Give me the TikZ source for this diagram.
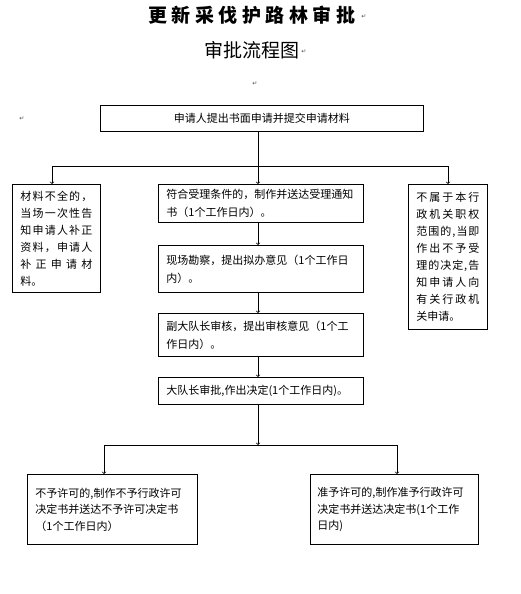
\documentclass[tikz,border=0pt]{standalone}
\usepackage{fontspec}
\newfontfamily\cjk{Noto Sans CJK SC}
\newfontfamily\symfont{DejaVu Sans}
\usepackage{tikz}

\newcommand{\tsp}{\hspace{4.5pt}}
\newcommand{\spreadline}[2]{\makebox[#1][s]{\spaceskip=0pt plus 1fil #2}}

\tikzset{
  box/.style={draw, line width=0.9pt, anchor=north west, inner xsep=8pt, inner ysep=0pt,
    align=left, font=\cjk\fontsize{11}{17}\selectfont},
  midbox/.style={box, text width=189pt, font=\cjk\fontsize{11}{18}\selectfont},
  endbox/.style={box, minimum height=70pt, font=\cjk\fontsize{11}{16.5}\selectfont},
  flow/.style={line width=0.7pt},
  pmark/.style={font=\symfont\fontsize{6}{6}\selectfont, text=black!70, inner sep=0pt},
}

\begin{document}
\begin{tikzpicture}[x=1pt, y=-1pt, >=to]
  \path[use as bounding box, fill=white] (0,0) rectangle (521,594);

  % titles
  \node[font=\cjk\bfseries\fontsize{19}{19}\selectfont] (title) at (252,15)
    {更\tsp 新\tsp 采\tsp 伐\tsp 护\tsp 路\tsp 林\tsp 审\tsp 批};
  \node[font=\cjk\fontsize{19}{19}\selectfont] (subtitle) at (252,50) {审批流程图};
  \node[pmark] (pm1) at (364,17) {↵};
  \node[pmark] (pm2) at (304,52) {↵};
  \node[pmark] (pm3) at (255,84) {↵};
  \node[pmark] (pm4) at (22,119) {↵};

  % boxes
  \node[box, text width=72pt, minimum height=108pt] (incomplete) at (12,184)
    {\spreadline{72pt}{材 料 不 全 的 ，}\\\spreadline{72pt}{当 场 一 次 性 告}\\
     \spreadline{72pt}{知 申 请 人 补 正}\\\spreadline{72pt}{资 料 ， 申 请 人}\\
     \spreadline{72pt}{补 正 申 请 材}\\料。};
  \node[box, text width=307pt, minimum height=26pt, align=center] (apply) at (100,105)
    {申请人提出书面申请并提交申请材料};
  \node[midbox, minimum height=38pt] (accept) at (158,184)
    {符合受理条件的，制作并送达受理通知\\书（1个工作日内）。};
  \node[midbox, minimum height=47pt] (survey) at (158,245)
    {现场勘察，提出拟办意见（1个工作日\\内）。};
  \node[midbox, minimum height=43pt] (review) at (158,313)
    {副大队长审核，提出审核意见（1个工\\作日内）。};
  \node[midbox, minimum height=27pt] (decide) at (158,377)
    {大队长审批,作出决定(1个工作日内)。};
  \node[box, text width=63pt, minimum height=145pt] (outscope) at (408,184)
    {\spreadline{63pt}{不 属 于 本 行}\\\spreadline{63pt}{政 机 关 职 权}\\
     \spreadline{63pt}{范 围 的 , 当 即}\\\spreadline{63pt}{作 出 不 予 受}\\
     \spreadline{63pt}{理 的 决 定 , 告}\\\spreadline{63pt}{知 申 请 人 向}\\
     \spreadline{63pt}{有 关 行 政 机}\\关申请。};
  \node[endbox, text width=154pt] (deny) at (27,474)
    {不予许可的,制作不予行政许可\\决定书并送达不予许可决定书\\（1个工作日内）};
  \node[endbox, text width=154pt, inner xsep=7pt] (grant) at (310,474)
    {准予许可的,制作准予行政许可\\决定书并送达决定书(1个工作\\日内)};

  % connectors
  \coordinate (fork) at (258,166);
  \coordinate (forkl) at (52,166);
  \coordinate (forkr) at (448,166);
  \draw[flow] (apply.south -| fork) -- (fork);
  \draw[flow] (forkl) -- (forkr);
  \draw[flow,->] (forkl) -- (forkl |- incomplete.north);
  \draw[flow,->] (fork) -- (fork |- accept.north);
  \draw[flow,->] (forkr) -- (forkr |- outscope.north);
  \draw[flow,->] (accept.south -| fork) -- (survey.north -| fork);
  \draw[flow,->] (survey.south -| fork) -- (review.north -| fork);
  \draw[flow,->] (review.south -| fork) -- (decide.north -| fork);

  \coordinate (join) at (258,445);
  \coordinate (joinl) at (104,445);
  \coordinate (joinr) at (397,445);
  \draw[flow,->] (decide.south -| join) -- (join);
  \draw[flow] (joinl) -- (joinr);
  \draw[flow,->] (joinl) -- (joinl |- deny.north);
  \draw[flow,->] (joinr) -- (joinr |- grant.north);
\end{tikzpicture}
\end{document}
